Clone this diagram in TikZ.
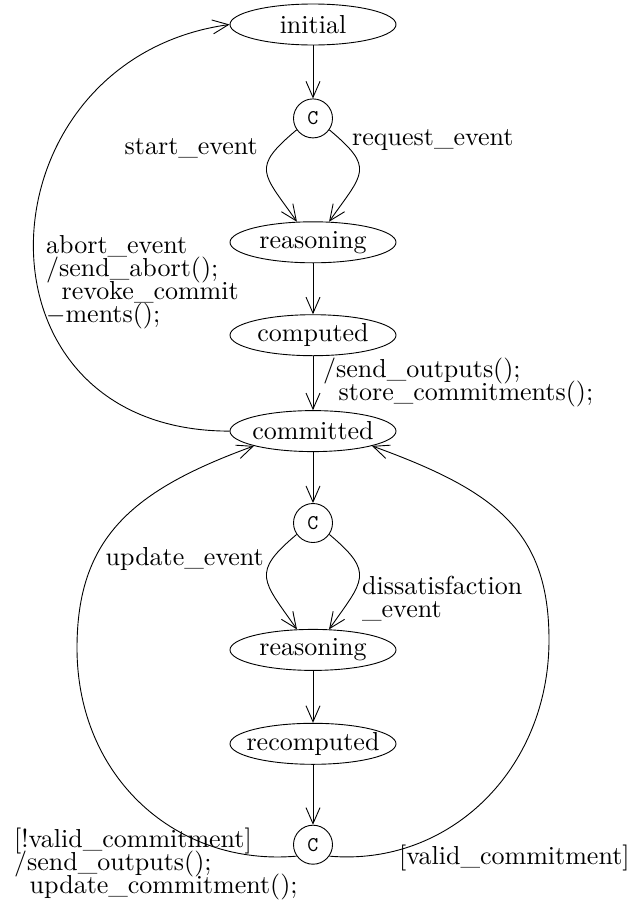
\documentclass[tikz,border=0pt]{standalone}
\usepackage{fontspec}
\setmainfont{lmroman10-regular.otf}
\setmonofont{lmmono10-regular.otf}
\usepackage{tikz}
\usetikzlibrary{shapes.geometric, arrows.meta, positioning}

\begin{document}
\begin{tikzpicture}[
        x=1pt, y=1pt,
        state/.style={ellipse, draw, line width=0.9pt, minimum width=166pt, minimum height=41pt, inner xsep=-12pt, inner ysep=0pt, font=\fontsize{26}{22}\selectfont},
        choice/.style={circle, draw, line width=0.9pt, minimum size=39pt, inner sep=0pt, font=\fontsize{21}{21}\selectfont\ttfamily},
        event/.style={inner sep=0pt, align=left, font={\fontsize{26}{23}\selectfont\lineskiplimit=-100pt}},
        arrow/.style={-{Straight Barb[length=16pt, width=14pt]}, line width=0.9pt}
    ]
        \useasboundingbox (0,0) rectangle (644,-905);

        % 1. Commit phase
        \node (initial) [state] at (313,-24.5) {initial};
        \node (c_start) [choice, below=53pt of initial] {C};
        \node (reasoning) [state, below=83pt of c_start] {reasoning};
        \node (computed) [state, below=51pt of reasoning] {computed};
        \node (committed) [state, below=54pt of computed] {committed};

        % 2. Revision phase
        \node (c_update) [choice, below=51pt of committed] {C};
        \node (re_reasoning) [state, below=86pt of c_update] {reasoning};
        \node (recomputed) [state, below=52pt of re_reasoning] {recomputed};
        \node (c_check) [choice, below=60pt of recomputed] {C};

        % waypoints of the two outer loops
        \coordinate (loop_left) at (77,-648);
        \coordinate (loop_right) at (549,-640);

        % Transitions
        \draw [arrow] (initial) -- (c_start);
        \draw [arrow] (c_start.215) to[out=220, in=125, distance=60pt] (reasoning.128);
        \draw [arrow] (c_start.325) to[out=-40, in=55, distance=60pt] (reasoning.52);
        \draw [arrow] (reasoning) -- (computed);
        \draw [arrow] (computed) -- (committed);
        \draw [arrow] (committed.west) to[out=180, in=188, out distance=270pt, in distance=255pt] (initial.west);

        \draw [arrow] (committed) -- (c_update);
        \draw [arrow] (c_update.215) to[out=220, in=125, distance=60pt] (re_reasoning.128);
        \draw [arrow] (c_update.325) to[out=-40, in=55, distance=60pt] (re_reasoning.52);
        \draw [arrow] (re_reasoning) -- (recomputed);
        \draw [arrow] (recomputed) -- (c_check);
        \draw [arrow] (c_check.215) to[out=185, in=-90, out distance=120pt, in distance=130pt] (loop_left)
            to[out=90, in=200, out distance=110pt, in distance=130pt] (committed.south west);
        \draw [arrow] (c_check.325) to[out=-5, in=-90, out distance=120pt, in distance=130pt] (loop_right)
            to[out=90, in=-20, out distance=110pt, in distance=130pt] (committed.south east);

        % Labels (base = last line)
        \node (start_lbl) [event, anchor=base east] at (258,-154) {start\_event};
        \node (request_lbl) [event, anchor=base west] at (352,-145) {request\_event};
        \node (abort_lbl) [event, anchor=base west] at (46,-322) {abort\_event\\/send\_abort();\\\hspace*{15.5pt}revoke\_commit\\$-$ments();};
        \node (store_lbl) [event, anchor=base west] at (323,-400) {/send\_outputs();\\\hspace*{15.5pt}store\_commitments();};
        \node (update_lbl) [event, anchor=base east] at (264,-565) {update\_event};
        \node (dissat_lbl) [event, anchor=base west] at (362,-617) {dissatisfaction\\\_event};
        \node (invalid_lbl) [event, anchor=base west] at (14,-893) {[!valid\_commitment]\\/send\_outputs();\\\hspace*{15.5pt}update\_commitment();};
        \node (valid_lbl) [event, anchor=base west] at (399,-864) {[valid\_commitment]};
\end{tikzpicture}
\end{document}
